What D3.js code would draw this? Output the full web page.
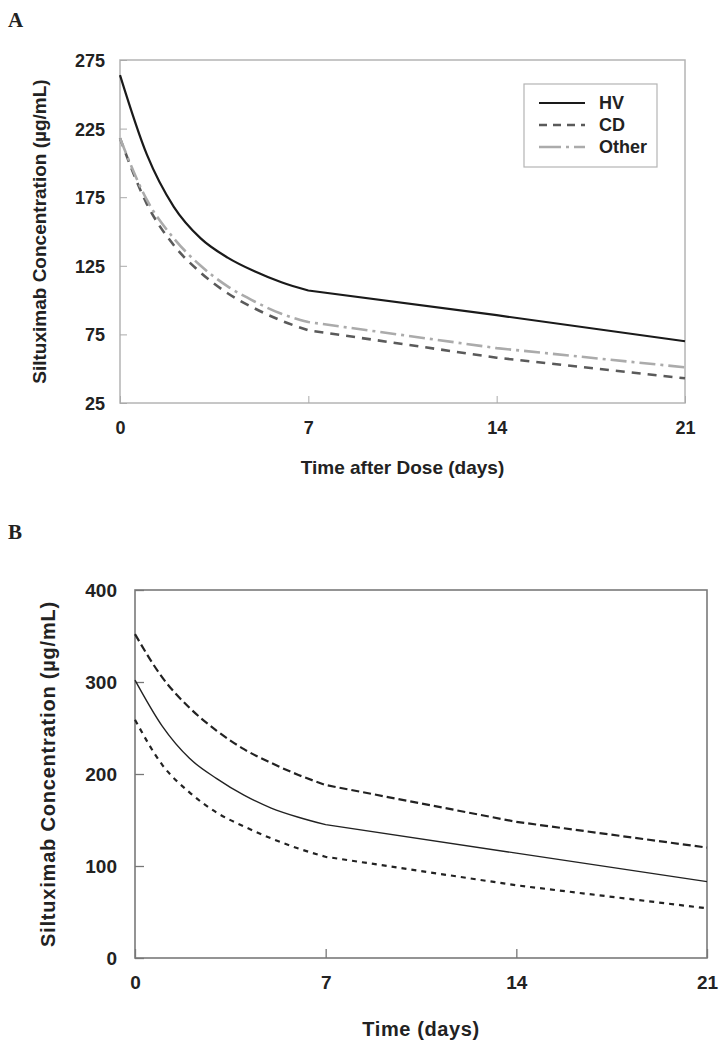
<!DOCTYPE html>
<html><head><meta charset="utf-8">
<script src="https://cdn.jsdelivr.net/npm/d3@7"></script>
<style>
html,body{margin:0;padding:0;background:#fff;}
svg text{font-family:"Liberation Sans",Arial,sans-serif;font-weight:bold;fill:#222;}
</style></head>
<body>
<svg id="chart" width="725" height="1050"></svg>
<script>
// ---- Panel A data ----
const daysA = [0, 1, 2, 3, 4, 5, 6, 7, 14, 21];
const hvA    = [264, 206, 168, 145, 131, 121, 113, 107, 89, 70];
const cdA    = [218, 170, 140, 120, 105, 94, 85, 78, 58, 43];
const otherA = [218, 173, 145, 125, 110, 99, 90, 84, 65, 51];
const seriesNamesA = ["HV", "CD", "Other"];
const yTicksA = [25, 75, 125, 175, 225, 275];
const xTicks = [0, 7, 14, 21];

// ---- Panel B data ----
const daysB = [0, 1, 2, 3, 4, 5, 6, 7, 14, 21];
const upperB  = [352, 305, 272, 247, 227, 212, 199, 188, 148, 120];
const medianB = [302, 252, 217, 195, 177, 163, 153, 145, 114, 83];
const lowerB  = [259, 210, 180, 158, 143, 130, 119, 110, 79, 54];
const yTicksB = [0, 100, 200, 300, 400];

const svg = d3.select("#chart");

// smooth for the daily part (0..7), straight for the weekly part (7..21)
function pathFor(days, vals, x, y) {
  const pts = days.map((d, i) => [x(d), y(vals[i])]);
  const k = days.indexOf(7);
  const smooth = d3.line().curve(d3.curveMonotoneX)(pts.slice(0, k + 1));
  const straight = d3.line().curve(d3.curveLinear)(pts.slice(k));
  return smooth + straight.replace(/^M[^L]*/, "");
}

// ===== Panel A =====
(function(){
  const L = 120, R = 685, T = 60, B = 403;
  const x = d3.scaleLinear().domain([0, 21]).range([L, R]);
  const y = d3.scaleLinear().domain([25, 275]).range([B, T]);
  const g = svg.append("g");

  svg.append("text").attr("x", 8).attr("y", 27)
    .style("font-family", "'Liberation Serif','Times New Roman',serif")
    .style("font-size", "21px").text("A");

  g.append("rect").attr("x", L).attr("y", T).attr("width", R - L).attr("height", B - T)
    .attr("fill", "none").attr("stroke", "#b4b4b4").attr("stroke-width", 1.5);

  const ax = g.append("g").attr("transform", `translate(${L},0)`)
    .call(d3.axisLeft(y).tickValues(yTicksA).tickSizeInner(-7).tickSizeOuter(0).tickPadding(15));
  ax.select(".domain").remove();
  ax.selectAll("line").attr("stroke", "#aaa");
  ax.selectAll("text").style("font-size", "18px").attr("dy", "0.36em").attr("fill", "#222");

  const bx = g.append("g").attr("transform", `translate(0,${B})`)
    .call(d3.axisBottom(x).tickValues(xTicks).tickSizeInner(-7).tickSizeOuter(0).tickPadding(18));
  bx.select(".domain").remove();
  bx.selectAll("line").attr("stroke", "#aaa");
  bx.selectAll("text").style("font-size", "18px").attr("fill", "#222");

  g.append("text").attr("x", (L + R) / 2).attr("y", 474).attr("text-anchor", "middle")
    .style("font-size", "19px").text("Time after Dose (days)");
  g.append("text").attr("transform", `translate(46,${(T + B) / 2}) rotate(-90)`)
    .attr("text-anchor", "middle").style("font-size", "19px")
    .text("Siltuximab Concentration (µg/mL)");

  const styles = [
    {data: hvA, stroke: "#1a1a1a", w: 2.2, dash: null},
    {data: cdA, stroke: "#5a5a5a", w: 2.6, dash: "9,7"},
    {data: otherA, stroke: "#ababab", w: 2.6, dash: "16,5,3,5"}
  ];
  styles.forEach(s => {
    g.append("path").attr("d", pathFor(daysA, s.data, x, y)).attr("fill", "none")
      .attr("stroke", s.stroke).attr("stroke-width", s.w)
      .attr("stroke-linejoin", "round")
      .attr("stroke-dasharray", s.dash);
  });

  const lg = g.append("g");
  lg.append("rect").attr("x", 524).attr("y", 84).attr("width", 133).attr("height", 83)
    .attr("fill", "#fff").attr("stroke", "#b4b4b4").attr("stroke-width", 1.2);
  seriesNamesA.forEach((n, i) => {
    const yy = 103 + i * 22;
    lg.append("line").attr("x1", 539).attr("x2", 585).attr("y1", yy).attr("y2", yy)
      .attr("stroke", styles[i].stroke).attr("stroke-width", styles[i].w)
      .attr("stroke-dasharray", i === 1 ? "8,6" : (i === 2 ? "22,5,3,5" : null));
    lg.append("text").attr("x", 599).attr("y", yy).attr("dy", "0.36em")
      .style("font-size", "18px").text(n);
  });
})();

// ===== Panel B =====
(function(){
  const L = 135, R = 707, T = 590, B = 958;
  const x = d3.scaleLinear().domain([0, 21]).range([L, R]);
  const y = d3.scaleLinear().domain([0, 400]).range([B, T]);
  const g = svg.append("g");

  svg.append("text").attr("x", 8).attr("y", 539)
    .style("font-family", "'Liberation Serif','Times New Roman',serif")
    .style("font-size", "21px").text("B");

  g.append("rect").attr("x", L).attr("y", T).attr("width", R - L).attr("height", B - T)
    .attr("fill", "none").attr("stroke", "#7a7a7a").attr("stroke-width", 1.6);

  const ax = g.append("g").attr("transform", `translate(${L},0)`)
    .call(d3.axisLeft(y).tickValues(yTicksB).tickSizeInner(-9).tickSizeOuter(0).tickPadding(18));
  ax.select(".domain").remove();
  ax.selectAll("line").attr("stroke", "#777").attr("stroke-width", 1.3);
  ax.selectAll("text").style("font-size", "19px").attr("dy", "0.36em").attr("fill", "#222");

  const bx = g.append("g").attr("transform", `translate(0,${B})`)
    .call(d3.axisBottom(x).tickValues(xTicks).tickSizeInner(-9).tickSizeOuter(0).tickPadding(18));
  bx.select(".domain").remove();
  bx.selectAll("line").attr("stroke", "#777").attr("stroke-width", 1.3);
  bx.selectAll("text").style("font-size", "19px").attr("fill", "#222");

  g.append("text").attr("x", (L + R) / 2).attr("y", 1036).attr("text-anchor", "middle")
    .style("font-size", "20px").style("letter-spacing", "0.6px").text("Time (days)");
  g.append("text").attr("transform", `translate(55,${(T + B) / 2}) rotate(-90)`)
    .attr("text-anchor", "middle").style("font-size", "20px").style("letter-spacing", "0.8px")
    .text("Siltuximab Concentration (µg/mL)");

  [
    {data: upperB, w: 2.2, dash: "8,4"},
    {data: medianB, w: 1.4, dash: null},
    {data: lowerB, w: 2.2, dash: "5,5"}
  ].forEach(s => {
    g.append("path").attr("d", pathFor(daysB, s.data, x, y)).attr("fill", "none")
      .attr("stroke", "#222").attr("stroke-width", s.w)
      .attr("stroke-linejoin", "round").attr("stroke-dasharray", s.dash);
  });
})();
</script>
</body></html>
